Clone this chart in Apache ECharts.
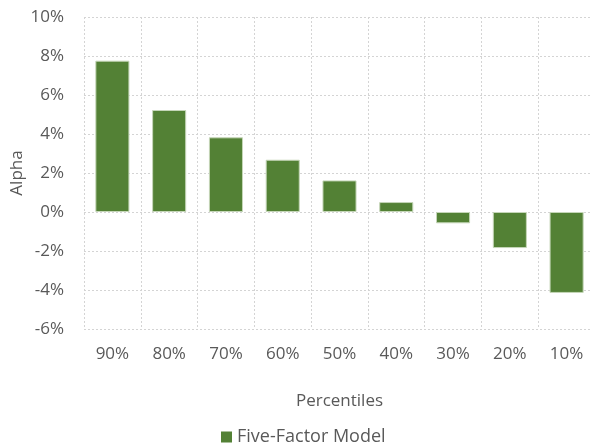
<!DOCTYPE html>
<html>
<head>
<meta charset="utf-8">
<script src="https://cdn.jsdelivr.net/npm/echarts@6/dist/echarts.min.js"></script>
<style>
html,body{margin:0;padding:0;background:#fff;}
#chart{width:590px;height:445px;}
</style>
</head>
<body>
<div id="chart"></div>
<script>
var categories = ['90%', '80%', '70%', '60%', '50%', '40%', '30%', '20%', '10%'];
var fiveFactorAlpha = [7.76, 5.23, 3.83, 2.68, 1.62, 0.51, -0.58, -1.85, -4.15];
var seriesName = 'Five-Factor Model';
var yMin = -6, yMax = 10, yStep = 2;

var FONT = 'Open Sans';
var TXT = '#595959';
var FS = 17;
var chart = echarts.init(document.getElementById('chart'), null, {renderer: 'canvas'});
chart.setOption({
  animation: false,
  backgroundColor: '#ffffff',
  textStyle: {fontFamily: FONT},
  grid: {left: 84, right: -5, top: 17, bottom: 116, containLabel: false, outerBoundsMode: 'none'},
  legend: {
    data: [seriesName],
    left: 216, top: 423,
    icon: 'rect', itemWidth: 11, itemHeight: 11, itemGap: 5,
    itemStyle: {borderWidth: 0},
    textStyle: {color: TXT, fontSize: 18, fontFamily: FONT}
  },
  xAxis: {
    type: 'category',
    data: categories,
    boundaryGap: true,
    name: 'Percentiles',
    nameLocation: 'middle',
    nameGap: 64,
    nameMoveOverlap: false,
    nameTextStyle: {color: TXT, fontSize: FS, fontFamily: FONT},
    axisLine: {show: false},
    axisTick: {show: false},
    axisLabel: {color: TXT, fontSize: FS, fontFamily: FONT, margin: 17, interval: 0},
    splitLine: {show: true, interval: 0, lineStyle: {color: '#d4d4d4', type: [2, 2], width: 1}}
  },
  yAxis: {
    type: 'value',
    min: yMin, max: yMax, interval: yStep,
    name: 'Alpha',
    nameLocation: 'middle',
    nameGap: 58,
    nameMoveOverlap: false,
    nameRotate: 90,
    nameTextStyle: {color: TXT, fontSize: FS, fontFamily: FONT},
    axisLine: {show: false},
    axisTick: {show: false},
    axisLabel: {color: TXT, fontSize: FS, fontFamily: FONT, margin: 20, formatter: '{value}%'},
    splitLine: {show: true, lineStyle: {color: '#d4d4d4', type: [2, 2], width: 1}}
  },
  series: [{
    name: seriesName,
    type: 'bar',
    data: fiveFactorAlpha,
    barWidth: '60%',
    itemStyle: {color: '#538135', borderColor: '#c5d6b8', borderWidth: 1}
  }]
});
</script>
</body>
</html>
